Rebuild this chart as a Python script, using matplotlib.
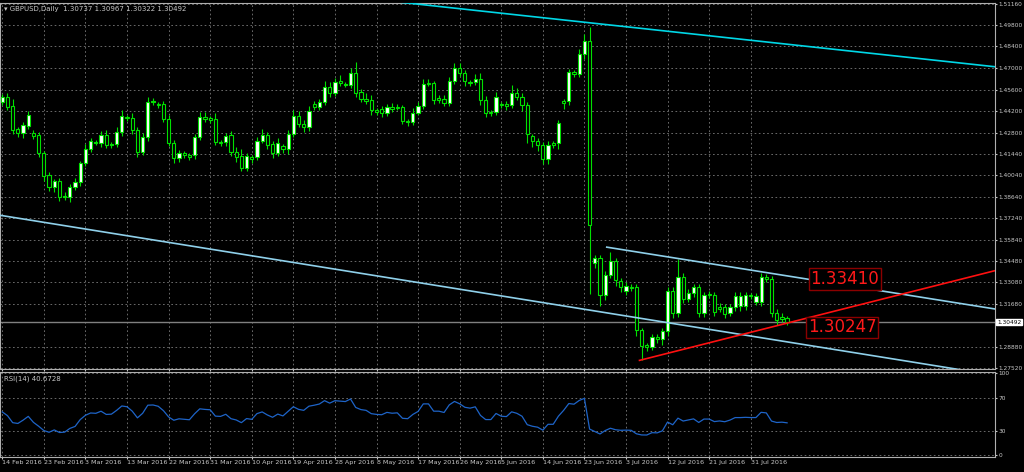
import numpy as np
import pandas as pd
import matplotlib
matplotlib.use('Agg')
import matplotlib.pyplot as plt

# daily GBPUSD candles (Sunday bars included, no Saturdays)
opens = [1.4479, 1.4512, 1.4453, 1.4304, 1.4278, 1.4323, 1.4278, 1.4265, 1.4148, 1.4005,
         1.3927, 1.3966, 1.3862, 1.3862, 1.3927, 1.3959, 1.4083, 1.4174, 1.4213, 1.4213,
         1.4265, 1.4200, 1.4206, 1.4284, 1.4382, 1.4375, 1.4297, 1.4154, 1.4252, 1.4479,
         1.4466, 1.4466, 1.4369, 1.4213, 1.4115, 1.4148, 1.4135, 1.4135, 1.4252, 1.4382,
         1.4375, 1.4369, 1.4219, 1.4219, 1.4265, 1.4154, 1.4128, 1.4050, 1.4122, 1.4122,
         1.4226, 1.4265, 1.4206, 1.4148, 1.4193, 1.4174, 1.4271, 1.4388, 1.4336, 1.4317,
         1.4466, 1.4447, 1.4479, 1.4577, 1.4537, 1.4616, 1.4590, 1.4590, 1.4667, 1.4544,
         1.4499, 1.4492, 1.4427, 1.4434, 1.4408, 1.4447, 1.4447, 1.4447, 1.4356, 1.4349,
         1.4408, 1.4453, 1.4603, 1.4603, 1.4505, 1.4499, 1.4473, 1.4616, 1.4700, 1.4667,
         1.4609, 1.4609, 1.4629, 1.4492, 1.4414, 1.4414, 1.4466, 1.4466, 1.4460, 1.4537,
         1.4512, 1.4460, 1.4258, 1.4226, 1.4200, 1.4109, 1.4213, 1.4213, 1.4486, 1.4486,
         1.4674, 1.4661, 1.4791, 1.4876, 1.3432, 1.3465, 1.3225, 1.3355, 1.3445, 1.3316,
         1.3251, 1.3277, 1.3277, 1.2997, 1.2900, 1.2887, 1.2952, 1.2939, 1.2991, 1.3251,
         1.3108, 1.3342, 1.3199, 1.3238, 1.3277, 1.3108, 1.3231, 1.3225, 1.3147, 1.3147,
         1.3108, 1.3147, 1.3153, 1.3153, 1.3225, 1.3179, 1.3179, 1.3342, 1.3329, 1.3108,
         1.3082, 1.3074]
closes = [1.4512, 1.4447, 1.4297, 1.4278, 1.4330, 1.4395, 1.4258, 1.4148, 1.3998, 1.3927,
          1.3966, 1.3862, 1.3868, 1.3927, 1.3959, 1.4083, 1.4174, 1.4226, 1.4219, 1.4265,
          1.4200, 1.4206, 1.4284, 1.4388, 1.4375, 1.4297, 1.4154, 1.4252, 1.4479, 1.4486,
          1.4460, 1.4369, 1.4213, 1.4115, 1.4148, 1.4135, 1.4122, 1.4252, 1.4382, 1.4369,
          1.4362, 1.4219, 1.4213, 1.4258, 1.4154, 1.4122, 1.4050, 1.4128, 1.4109, 1.4226,
          1.4265, 1.4200, 1.4148, 1.4213, 1.4174, 1.4271, 1.4388, 1.4336, 1.4317, 1.4421,
          1.4447, 1.4479, 1.4577, 1.4537, 1.4609, 1.4603, 1.4596, 1.4667, 1.4537, 1.4499,
          1.4486, 1.4427, 1.4414, 1.4408, 1.4447, 1.4434, 1.4440, 1.4356, 1.4349, 1.4408,
          1.4453, 1.4596, 1.4596, 1.4492, 1.4492, 1.4473, 1.4616, 1.4700, 1.4667, 1.4616,
          1.4603, 1.4629, 1.4492, 1.4408, 1.4408, 1.4512, 1.4460, 1.4453, 1.4537, 1.4512,
          1.4460, 1.4271, 1.4226, 1.4200, 1.4109, 1.4200, 1.4200, 1.4343, 1.4473, 1.4674,
          1.4661, 1.4791, 1.4876, 1.3680, 1.3465, 1.3225, 1.3355, 1.3445, 1.3322, 1.3277,
          1.3283, 1.3270, 1.2997, 1.2893, 1.2887, 1.2952, 1.2939, 1.2991, 1.3251, 1.3108,
          1.3342, 1.3199, 1.3238, 1.3277, 1.3108, 1.3225, 1.3225, 1.3114, 1.3134, 1.3101,
          1.3147, 1.3218, 1.3218, 1.3225, 1.3218, 1.3218, 1.3342, 1.3329, 1.3108, 1.3062,
          1.3069, 1.3049]
# wick lengths in pips above / below the body
upper_wick = [20, 26, 45, 15, 20, 25, 20, 20, 15, 20, 15, 20, 30, 20, 25, 15, 30, 20, 15, 25,
              30, 15, 35, 40, 15, 30, 20, 25, 30, 20, 15, 20, 25, 20, 20, 15, 15, 20, 30, 30,
              15, 40, 15, 20, 25, 30, 45, 20, 15, 25, 40, 20, 20, 30, 15, 25, 40, 30, 25, 30,
              20, 20, 40, 30, 25, 40, 15, 30, 70, 20, 40, 35, 15, 20, 20, 25, 20, 15, 15, 30,
              25, 30, 25, 15, 20, 25, 25, 35, 30, 20, 15, 30, 40, 25, 15, 30, 15, 20, 50, 30,
              25, 20, 15, 20, 20, 25, 15, 20, 15, 20, 15, 30, 45, 90, 20, 20, 25, 60, 20, 20,
              25, 20, 20, 15, 15, 20, 20, 20, 30, 30, 120, 25, 30, 20, 20, 20, 20, 20, 25, 20,
              20, 25, 25, 20, 15, 20, 30, 20, 20, 25, 25, 15]
lower_wick = [20, 20, 25, 25, 30, 20, 20, 25, 30, 25, 30, 25, 20, 30, 20, 25, 20, 20, 15, 25,
              20, 20, 20, 25, 20, 25, 30, 20, 25, 20, 20, 20, 20, 30, 25, 20, 20, 25, 20, 20,
              20, 20, 20, 25, 25, 35, 20, 20, 25, 20, 15, 25, 35, 20, 25, 30, 20, 20, 30, 25,
              20, 20, 20, 25, 20, 20, 15, 20, 25, 20, 20, 30, 20, 25, 20, 20, 15, 20, 25, 20,
              15, 20, 15, 25, 20, 20, 20, 20, 20, 30, 20, 20, 30, 25, 20, 20, 20, 25, 20, 20,
              40, 60, 40, 40, 35, 30, 20, 40, 40, 25, 20, 20, 30, 450, 30, 70, 30, 20, 40, 30,
              25, 20, 40, 90, 25, 20, 25, 40, 30, 30, 25, 25, 20, 25, 25, 25, 20, 25, 20, 25,
              20, 25, 30, 25, 20, 20, 25, 20, 25, 30, 20, 20]

price_ticks = [1.51160, 1.49800, 1.48400, 1.47000, 1.45600, 1.44200, 1.42800, 1.41440,
               1.40040, 1.38640, 1.37240, 1.35840, 1.34480, 1.33080, 1.31680, 1.28880, 1.27520]
last_price = 1.30492
title_text = 'GBPUSD,Daily  1.30737 1.30967 1.30322 1.30492'

# drawn objects: (bar0, price0, bar1, price1)
line_cyan = (76.0, 1.5129, 191.3, 1.4707)
line_low = (-0.44, 1.3744, 185.1, 1.2737)
line_mid = (116.3, 1.3537, 191.3, 1.3134)
line_red = (122.6, 1.2802, 191.3, 1.3387)
level_labels = [(155.5, 1.3330, '1.33410'), (155.0, 1.3016, '1.30247')]

opens = np.array(opens)
closes = np.array(closes)
highs = np.maximum(opens, closes) + np.array(upper_wick) * 1e-4
lows = np.minimum(opens, closes) - np.array(lower_wick) * 1e-4
n = len(closes)
idx = np.arange(n)

# trading days incl. Sundays
days = pd.date_range('2016-02-14', periods=200, freq='D')
days = days[days.dayofweek != 5][:n]

# RSI(14), Wilder smoothing, seeded with an average daily move
ag, al = 0.0030, 0.0027
rsi = []
prev = closes[0]
for c in closes:
    d = c - prev
    ag = (ag * 13 + max(d, 0)) / 14
    al = (al * 13 + max(-d, 0)) / 14
    rsi.append(100 - 100 / (1 + ag / al))
    prev = c
rsi = np.array(rsi)

fg = '#c8c8c8'
green = '#00e000'
fig = plt.figure(figsize=(10.24, 4.72), dpi=100, facecolor='black')
ax = fig.add_axes([0.0, 1 - 369/472, 995/1024, 366/472])
ax2 = fig.add_axes([0.0, 1 - 457/472, 995/1024, 85/472])

xmin, xmax = -0.44, 191.0
for a in (ax, ax2):
    a.set_facecolor('black')
    a.set_xlim(xmin, xmax)
    for s in a.spines.values():
        s.set_color('#b0b0b0')
        s.set_linewidth(0.8)
    a.yaxis.tick_right()
    a.tick_params(colors=fg, labelsize=4.2, length=1.5, pad=0.8)
    a.grid(True, color='#7a7a7a', linestyle=(0, (2, 3)), linewidth=0.6)
    a.set_axisbelow(True)

label_bars = list(range(0, n, 8))
ax.set_xticks(label_bars)
ax.set_xticklabels([])
ax2.set_xticks(label_bars)
ax2.set_xticklabels([d.strftime('%d %b %Y').lstrip('0') for d in days[label_bars]],
                    ha='left', fontsize=4.6)

ax.set_ylim(1.2746, 1.5122)
ax.set_yticks(price_ticks)
ax.set_yticklabels(['%.5f' % t for t in price_ticks])

# candles
ax.vlines(idx, lows, highs, color=green, linewidth=0.8, zorder=3)
bull = closes >= opens
bottom = np.minimum(opens, closes)
height = np.maximum(np.abs(closes - opens), 0.00015)
ax.bar(idx, height, bottom=bottom, width=0.62,
       color=np.where(bull, 'white', 'black'), edgecolor=green, linewidth=0.8, zorder=4)

# trendlines
for (x0, y0, x1, y1), c in [(line_cyan, '#00d7e6'), (line_low, '#8fd0ea'),
                            (line_mid, '#8fd0ea'), (line_red, '#ff1010')]:
    ax.plot([x0, x1], [y0, y1], color=c, linewidth=1.2, zorder=5)

ax.axhline(last_price, color='#808080', linewidth=1.0, zorder=2)
ax.text(1.002, last_price, '%.5f' % last_price, transform=ax.get_yaxis_transform(),
        fontsize=4.2, color='black', va='center', ha='left', zorder=7,
        bbox=dict(boxstyle='square,pad=0.12', fc='white', ec='white'))

for bx, py, txt in level_labels:
    ax.text(bx, py, txt, color='#ff1a1a', fontsize=12, va='center', ha='left', zorder=6,
            bbox=dict(boxstyle='square,pad=0.1', fc='black', ec='#8b0000', lw=1))

ax.text(0.004, 0.993, '\u25be ' + title_text, transform=ax.transAxes, fontsize=5,
        color=fg, va='top', ha='left')

# RSI panel
ax2.plot(idx, rsi, color='#1e64c8', linewidth=0.9)
ax2.set_ylim(-2, 101)
ax2.set_yticks([0, 30, 70, 100])
ax2.set_yticklabels(['0', '30', '70', '100'])
ax2.text(0.004, 0.96, 'RSI(14) 40.6728', transform=ax2.transAxes, fontsize=5,
         color=fg, va='top', ha='left')

fig.savefig('out.png', dpi=100, facecolor='black')
